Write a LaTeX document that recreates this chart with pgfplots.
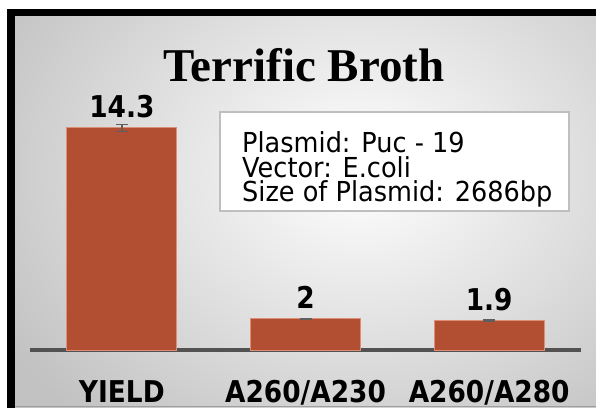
\documentclass[border=0pt]{standalone}
\usepackage{pgfplots}
\pgfplotsset{compat=1.18}
\usepackage{fontspec}
\setmainfont{Liberation Serif}
\newfontfamily\labfont[FakeStretch=0.88]{DejaVu Sans}
\newfontfamily\boxfont[FakeStretch=0.93]{DejaVu Sans}
\definecolor{barfill}{RGB}{178,79,51}
\definecolor{baredge}{RGB}{222,142,118}
\definecolor{axisgray}{RGB}{82,82,82}
\definecolor{errgray}{RGB}{95,95,95}
\pgfplotstableread{
x y e
0 14.3 0.22
1 2.0 0.03
2 1.9 0.03
}\tbdata
\begin{document}
\begin{tikzpicture}[x=1pt,y=1pt]
\useasboundingbox (0,0) rectangle (596,407);
\clip (0,0) rectangle (596,407);
\fill[white] (0,0) rectangle (596,407);
\fill[black] (7,-5) rectangle (610,398);
\begin{scope}
\clip (15,-5) rectangle (610,390);
\shade[inner color=white, outer color=black!24] (-60,-93) rectangle (780,567);
\end{scope}
\draw[black!38, line width=1pt] (15,0.5) -- (600,0.5);
% title
\node[anchor=base, inner sep=0pt, font=\fontsize{47}{50}\selectfont\bfseries] at (304,325) {Terrific Broth};
% info box
\draw[fill=white, draw=black!25, line width=1.2pt] (220,295) rectangle (569,196);
\node[anchor=base west, inner sep=0pt, font=\boxfont\fontsize{27.5}{30}\selectfont] at (242,254) {Plasmid: Puc - 19};
\node[anchor=base west, inner sep=0pt, font=\boxfont\fontsize{27.5}{30}\selectfont] at (242,229) {Vector: E.coli};
\node[anchor=base west, inner sep=0pt, font=\boxfont\fontsize{27.5}{30}\selectfont] at (242,205) {Size of Plasmid: 2686bp};
\begin{axis}[
  at={(30pt,57pt)}, anchor=south west,
  scale only axis, width=551pt, height=248.4pt,
  xmin=-0.5, xmax=2.5, ymin=0, ymax=16,
  axis x line*=bottom, axis y line=none,
  x axis line style={axisgray, line width=3.5pt, -},
  xtick={0,1,2}, xticklabels={YIELD, A260/A230, A260/A280},
  major tick length=0pt, ytick=\empty,
  xticklabel style={font=\labfont\bfseries\fontsize{30}{32}\selectfont, anchor=base, yshift=-52pt},
  ybar, bar width=110pt,
  /pgf/number format/assume math mode=true,
  nodes near coords,
  every node near coord/.append style={font=\labfont\bfseries\fontsize{30}{32}\selectfont, anchor=base, yshift=10pt, black},
  clip=false,
]
\addplot[fill=barfill, draw=baredge, line width=1pt,
  error bars/.cd, y dir=both, y explicit,
  error bar style={errgray, line width=1.4pt},
  error mark options={errgray, line width=1.6pt, mark size=6pt, rotate=90}]
  table[x=x, y=y, y error=e] {\tbdata};
\end{axis}
\end{tikzpicture}
\end{document}
